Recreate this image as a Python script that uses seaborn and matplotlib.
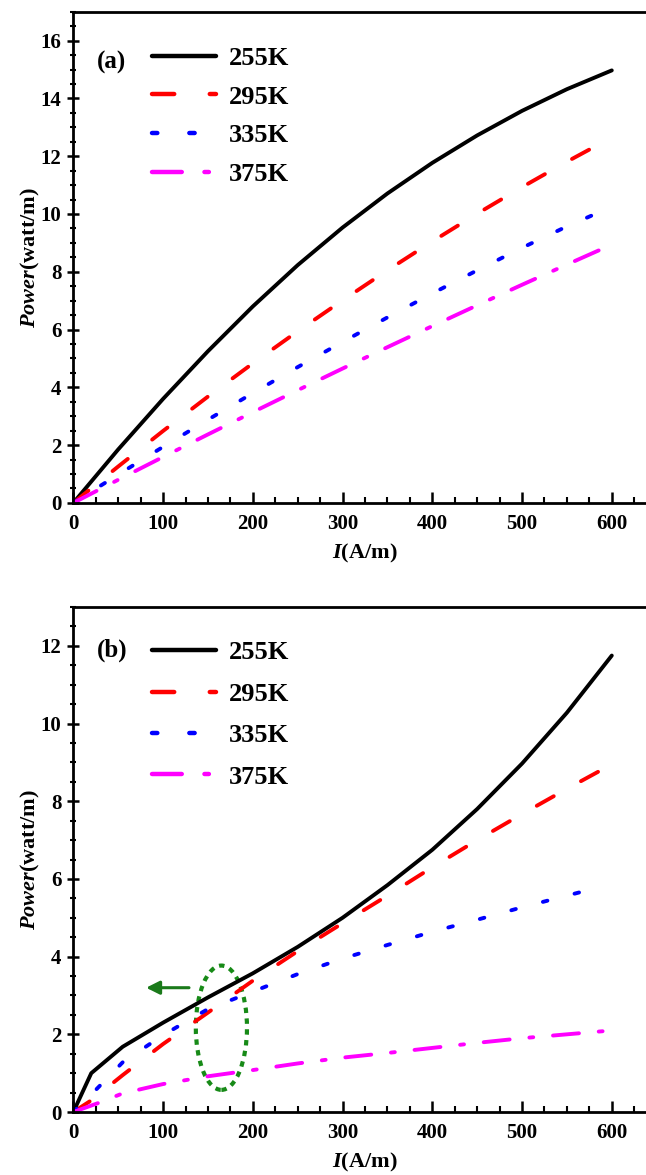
import numpy as np
import pandas as pd
import matplotlib
matplotlib.use('Agg')
import matplotlib.pyplot as plt
from matplotlib.patches import Ellipse
from matplotlib.ticker import MultipleLocator
import seaborn as sns

# data
temps = ['255K', '295K', '335K', '375K']
colors = ['black', '#ff0000', '#0000ff', '#ff00ff']

# panel (a)
I_a = [0, 50, 100, 150, 200, 250, 300, 350, 400, 450, 500, 550, 600]
a255 = [0, 1.85, 3.6, 5.25, 6.8, 8.23, 9.53, 10.71, 11.77, 12.72, 13.57, 14.32, 14.97]
a295 = [0, 1.26, 2.49, 3.68, 4.83, 5.94, 7.01, 8.05, 9.05, 10.01, 10.93, 11.81, 12.65]
a335 = [0, 0.98, 1.94, 2.88, 3.8, 4.7, 5.57, 6.42, 7.25, 8.05, 8.83, 9.57, 10.25]
a375 = [0, 0.8, 1.59, 2.37, 3.14, 3.9, 4.65, 5.39, 6.12, 6.84, 7.55, 8.25, 8.94]

# panel (b)
I_b = [0, 20, 55, 100, 150, 200, 250, 300, 350, 400, 450, 500, 550, 600]
b255 = [0, 1.0, 1.68, 2.3, 2.95, 3.57, 4.25, 5.0, 5.84, 6.75, 7.8, 8.97, 10.28, 11.75]
b295 = [0, 0.3, 0.95, 1.75, 2.56, 3.38, 4.14, 4.86, 5.57, 6.3, 7.0, 7.67, 8.32, 8.95]
I_b335 = [0, 20, 55, 100, 150, 200, 250, 300, 350, 400, 450, 500, 550, 580]
b335 = [0, 0.45, 1.28, 1.98, 2.65, 3.1, 3.55, 3.95, 4.3, 4.64, 4.95, 5.27, 5.57, 5.75]
I_b375 = [0, 30, 55, 100, 150, 200, 250, 300, 350, 400, 450, 500, 550, 600]
b375 = [0, 0.25, 0.48, 0.72, 0.92, 1.08, 1.25, 1.4, 1.52, 1.65, 1.78, 1.9, 2.0, 2.1]

dash_styles = [None, (5, 8), (1.2, 7.2), (6.7, 5.1, 1.0, 5.1)]

sns.set_style('ticks')
plt.rcParams['font.family'] = ['Liberation Serif', 'DejaVu Serif']
plt.rcParams['font.weight'] = 'bold'
plt.rcParams['mathtext.fontset'] = 'custom'
plt.rcParams['mathtext.it'] = 'Liberation Serif:italic:bold'
plt.rcParams['mathtext.rm'] = 'Liberation Serif:bold'
plt.rcParams['mathtext.bf'] = 'Liberation Serif:bold'
for k in ['text.color', 'axes.labelcolor', 'xtick.color', 'ytick.color', 'axes.edgecolor']:
    plt.rcParams[k] = 'black'

fig = plt.figure(figsize=(6.46, 11.75), dpi=100)
# right spine sits just outside the picture (cropped like the original)
ax1 = fig.add_axes([0.1135, 0.572, 0.903, 0.418])
ax2 = fig.add_axes([0.1135, 0.0536, 0.903, 0.4298])


def draw(ax, xs_list, ys_list, ymax, tag, leg_y, tag_y, spacing):
    for xs, ys, lab, c, d in zip(xs_list, ys_list, temps, colors, dash_styles):
        df = pd.DataFrame({'I': xs, 'P': ys})
        sns.lineplot(data=df, x='I', y='P', ax=ax, color=c, lw=2.8, label=lab)
        ln = ax.lines[-1]
        ln.set_solid_capstyle('round')
        ln.set_solid_joinstyle('round')
        if d is not None:
            ln.set_dashes(d)
            ln.set_dash_capstyle('round')
    ax.set_xlim(0, 650)
    ax.set_ylim(0, ymax)
    ax.xaxis.set_major_locator(MultipleLocator(100))
    ax.xaxis.set_minor_locator(MultipleLocator(25))
    ax.yaxis.set_major_locator(MultipleLocator(2))
    ax.yaxis.set_minor_locator(MultipleLocator(0.5))
    ax.tick_params(axis='x', which='major', direction='in', length=8, width=1.8, labelsize=15, pad=8)
    ax.tick_params(axis='x', which='minor', direction='in', length=4, width=1.5)
    ax.tick_params(axis='y', which='major', direction='inout', length=9, width=1.8, labelsize=15, pad=4)
    ax.tick_params(axis='y', which='minor', direction='inout', length=5, width=1.5)
    for sp in ax.spines.values():
        sp.set_linewidth(2)
    ax.set_xlabel(r'$\mathit{I}$(A/m)', fontsize=16, fontweight='bold', labelpad=6)
    ax.set_ylabel(r'$\mathit{Power}$(watt/m)', fontsize=16, fontweight='bold', labelpad=-1)
    leg = ax.legend(loc='upper left', bbox_to_anchor=(0.095, leg_y), frameon=False,
                    fontsize=19, handlelength=2.4, handletextpad=0.5, labelspacing=spacing)
    for h in leg.get_lines():
        h.set_linewidth(3.2)
    ax.text(0.04, tag_y, tag, transform=ax.transAxes, fontsize=18, fontweight='bold', va='center')


draw(ax1, [I_a] * 4, [a255, a295, a335, a375], 17, '(a)', 0.978, 0.897, 0.58)
draw(ax2, [I_b, I_b, I_b335, I_b375], [b255, b295, b335, b375], 13, '(b)', 0.980, 0.915, 0.68)

# green marker: dotted ellipse and arrow pointing to the left axis
ell = Ellipse((165, 2.17), width=57, height=3.2, fill=False, edgecolor='#178a17',
              lw=3, linestyle=(0, (1.3, 1.3)))
ax2.add_patch(ell)
ax2.annotate('', xy=(78, 3.2), xytext=(132, 3.2),
             arrowprops=dict(arrowstyle='-|>', color='#1a7a1a', lw=2.2, mutation_scale=20))

fig.savefig('out.png', dpi=100)
